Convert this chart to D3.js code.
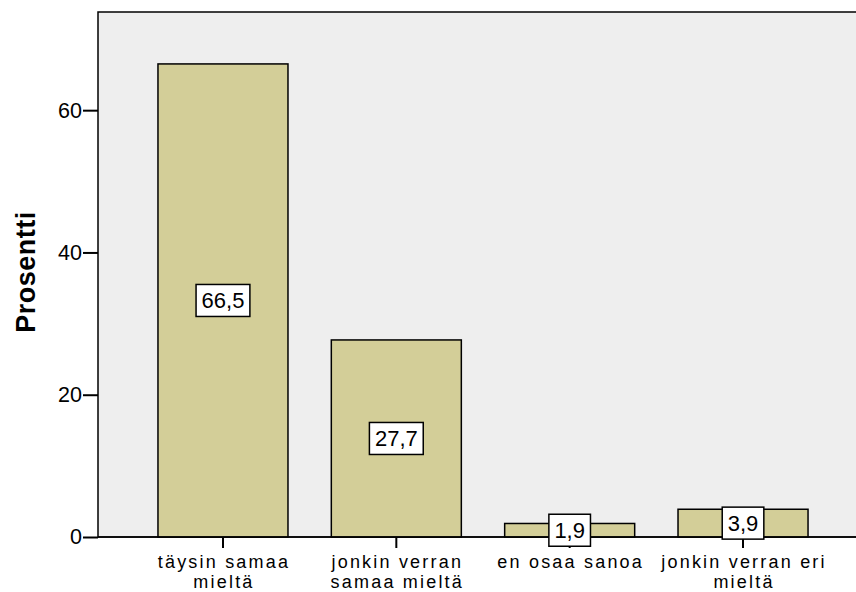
<!DOCTYPE html>
<html><head><meta charset="utf-8">
<script src="https://cdn.jsdelivr.net/npm/d3@7"></script>
<style>body{margin:0;background:#fff}svg{display:block}text{font-family:"Liberation Sans",Arial,sans-serif}</style>
</head><body><svg id="c" width="856" height="592"></svg>
<script>
const categories = [["täysin samaa","mieltä"],["jonkin verran","samaa mieltä"],["en osaa sanoa"],["jonkin verran eri","mieltä"]];
const values = [66.5, 27.7, 1.9, 3.9];
const valueLabels = ["66,5","27,7","1,9","3,9"];
const yTicks = [0,20,40,60];

(function(){
const svg = d3.select("#c");
const mLeft = 98, mTop = 12, mBottom = 537, mRight = 860;
const y = d3.scaleLinear().domain([0, 73.8]).range([mBottom, mTop]);
const x = d3.scaleBand().domain(d3.range(categories.length)).range([136.3, 829.7]).paddingInner(0.25).paddingOuter(0.125);

svg.append("rect").attr("x", mLeft).attr("y", mTop).attr("width", mRight-mLeft).attr("height", mBottom-mTop)
  .attr("fill", "#eeeeee").attr("stroke", "#000").attr("stroke-width", 1.5);

svg.selectAll("rect.bar").data(values).join("rect").attr("class","bar")
  .attr("x", (d,i)=>x(i)).attr("width", x.bandwidth())
  .attr("y", d=>y(d)).attr("height", d=>mBottom-y(d))
  .attr("fill", "#d3ce98").attr("stroke", "#000").attr("stroke-width", 1.5);

const ya = svg.append("g").attr("transform", `translate(${mLeft},0)`)
  .call(d3.axisLeft(y).tickValues(yTicks).tickSize(15).tickPadding(1).tickFormat(d3.format("d")));
ya.select(".domain").remove();
ya.selectAll(".tick line").attr("stroke","#000").attr("stroke-width",2);
ya.selectAll(".tick text").attr("font-size", 21.5).attr("fill","#000").attr("font-family","Liberation Sans, Arial, sans-serif");

const xa = svg.append("g").attr("transform", `translate(0,${mBottom})`)
  .call(d3.axisBottom(x).tickSize(11).tickFormat(""));
xa.select(".domain").remove();
xa.selectAll(".tick line").attr("stroke","#000").attr("stroke-width",2);
svg.append("line").attr("x1", mLeft).attr("x2", 856).attr("y1", mBottom).attr("y2", mBottom).attr("stroke","#000").attr("stroke-width",1.5);

categories.forEach((lines,i)=>{
  const cx = x(i)+x.bandwidth()/2;
  lines.forEach((l,j)=>svg.append("text").attr("x", cx+1).attr("y", 567.6 + j*20.2)
    .attr("text-anchor","middle").attr("font-size",18).attr("letter-spacing","2.2px").attr("fill","#000").text(l));
});

values.forEach((v,i)=>{
  const cx = x(i)+x.bandwidth()/2, cy = y(v/2);
  const g = svg.append("g");
  const t = g.append("text").attr("x", cx).attr("y", cy+8).attr("text-anchor","middle").attr("font-size",22).attr("fill","#000").text(valueLabels[i]);
  const w = t.node().getComputedTextLength();
  g.insert("rect","text").attr("x", cx-w/2-5.5).attr("y", cy-16).attr("width", w+11).attr("height", 32)
    .attr("fill","#fff").attr("stroke","#000").attr("stroke-width",1.5);
});

svg.append("text").attr("transform","translate(35,272) rotate(-90)").attr("text-anchor","middle")
  .attr("font-size",27).attr("font-weight","bold").attr("letter-spacing","0.5px").attr("fill","#000").text("Prosentti");
})();
</script></body></html>
